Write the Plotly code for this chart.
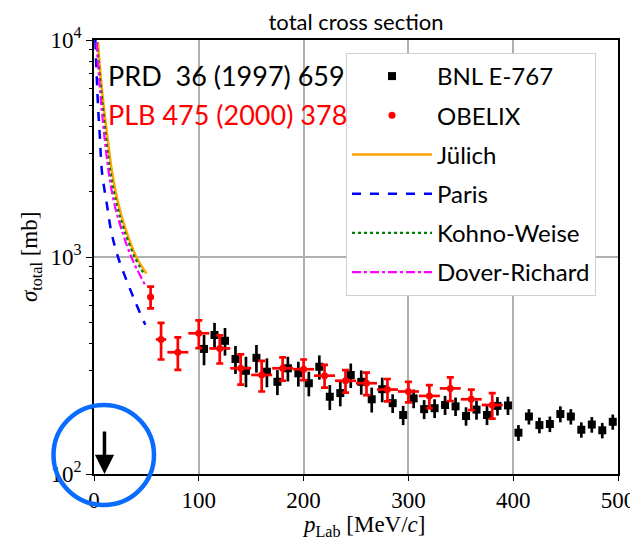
import plotly.graph_objects as go

# ---------------- data ----------------
bnl_p = [105, 115, 125, 135, 145, 155, 165, 175, 185, 195,
         205, 215, 225, 235, 245, 255, 265, 275, 285, 295,
         305, 315, 325, 335, 345, 355, 365, 375, 385, 395,
         405, 415, 425, 435, 445, 455, 465, 475, 485, 495]
bnl_sigma = [377, 437, 411, 339, 299, 343, 296, 266, 307, 291,
             262, 312, 227, 236, 286, 266, 221, 246, 212, 187,
             223, 199, 201, 208, 205, 185, 198, 187, 206, 207,
             155, 184, 168, 170, 189, 184, 160, 169, 159, 174]
bnl_err = [60, 60, 60, 50, 48, 50, 45, 35, 40, 38,
           34, 40, 30, 31, 37, 34, 29, 32, 21, 19,
           22, 20, 20, 21, 20, 18, 20, 19, 20, 20,
           13, 15, 14, 14, 16, 15, 13, 14, 13, 14]

obelix_p = [54, 64, 80, 100, 120, 140, 160, 180, 200, 220,
            240, 260, 280, 300, 320, 340, 360, 380]
obelix_sigma = [655, 417, 364, 445, 379, 307, 286, 307, 304, 284,
                269, 262, 245, 240, 229, 248, 221, 208]
obelix_err = [75, 80, 62, 65, 56, 49, 46, 38, 33, 34,
              32, 31, 29, 26, 28, 31, 24, 28]
obelix_dp = [3, 5, 10, 10, 10, 10, 10, 10, 10, 10,
             10, 10, 10, 10, 10, 10, 10, 10]

julich_p = [3.8, 6.0, 9.2, 13.0, 17.2, 23.5, 29.9, 40.4, 50.0]
julich_sigma = [9770, 7110, 4995, 3512, 2470, 1734, 1355, 1000, 840]

paris_p = [1.3, 3.8, 5.7, 7.6, 12.4, 16.5, 22.9, 37.9, 49.0]
paris_sigma = [10000, 4995, 3512, 2470, 1734, 1309, 1000, 646, 487]

kw_p = [2.8, 8.3, 15.6, 21.9, 28.3, 38.8, 48.5]
kw_sigma = [9770, 4995, 2470, 1734, 1355, 1000, 824]

dr_p = [2.3, 7.0, 14.0, 19.7, 26.0, 35.6, 49.0]
dr_sigma = [9770, 4995, 2470, 1734, 1355, 1000, 740]

x_ticks = [0, 100, 200, 300, 400, 500]
y_ticks = [100, 1000, 10000]
y_ticktext = ["10<sup>2</sup>", "10<sup>3</sup>", "10<sup>4</sup>"]
y_minor = [200, 300, 400, 500, 600, 700, 800, 900,
           2000, 3000, 4000, 5000, 6000, 7000, 8000, 9000]

SANS = "Lato"
SERIF = "Liberation Serif"

# page body has an 8px margin: the figure is sized so that the plot area
# lands at the same place as in the reference
W, H = 630, 540
ML, MR, MT, MB = 86, 20, 32, 74
PW, PH = W - ML - MR, H - MT - MB


def px(xp):
    return (xp - 8 - ML) / PW


def py(yp):
    return (H - MB - (yp - 8)) / PH


fig = go.Figure()

fig.add_trace(go.Scatter(
    x=bnl_p, y=bnl_sigma, mode="markers", name="BNL E-767",
    legendgroup="a",
    marker=dict(symbol="square", size=8, color="black"),
    error_y=dict(type="data", array=bnl_err, color="black", thickness=2.7, width=0),
))
fig.add_trace(go.Scatter(
    x=obelix_p, y=obelix_sigma, mode="markers", name="OBELIX",
    legendgroup="b",
    marker=dict(symbol="circle", size=7, color="#ff0000"),
    error_y=dict(type="data", array=obelix_err, color="#ff0000", thickness=2.7, width=3.5),
    error_x=dict(type="data", array=obelix_dp, color="#ff0000", thickness=2.7, width=0),
))
fig.add_trace(go.Scatter(
    x=julich_p, y=julich_sigma, mode="lines", name="Jülich", legendgroup="c",
    line=dict(color="#ffa500", width=2.5, shape="spline"),
))
fig.add_trace(go.Scatter(
    x=paris_p, y=paris_sigma, mode="lines", name="Paris", legendgroup="d",
    line=dict(color="#0000ff", width=2.5, dash="dash", shape="spline"),
))
fig.add_trace(go.Scatter(
    x=kw_p, y=kw_sigma, mode="lines", name="Kohno-Weise", legendgroup="e",
    line=dict(color="#008000", width=2.2, dash="dot", shape="spline"),
))
fig.add_trace(go.Scatter(
    x=dr_p, y=dr_sigma, mode="lines", name="Dover-Richard", legendgroup="f",
    line=dict(color="#ff00ff", width=2.2, dash="dashdot", shape="spline"),
))

fig.update_layout(
    width=W, height=H,
    margin=dict(l=ML, r=MR, t=MT, b=MB, autoexpand=False),
    paper_bgcolor="white", plot_bgcolor="white",
    title=dict(text="total cross section", x=(356 - 8) / W, xanchor="center",
               y=1 - (22 - 8) / H, yanchor="middle",
               font=dict(family=SANS, size=22, color="black")),
    legend=dict(x=px(346), xanchor="left", y=py(53), yanchor="top",
                bgcolor="white", bordercolor="#d0d0d0", borderwidth=1,
                font=dict(family=SANS, size=24, color="black"),
                tracegroupgap=5, itemwidth=80),
    showlegend=True,
)

fig.update_xaxes(
    range=[0, 500], tickvals=x_ticks, ticks="outside", ticklen=5,
    tickcolor="black", showline=True, linecolor="black", linewidth=1.5,
    mirror=True, showgrid=True, gridcolor="#b0b0b0", gridwidth=1.5,
    zeroline=False, automargin=False,
    tickfont=dict(family=SERIF, size=23, color="black"),
)
fig.update_yaxes(
    type="log", range=[2, 4], tickvals=y_ticks, ticktext=y_ticktext,
    ticks="outside", ticklen=6, tickcolor="black",
    showline=True, linecolor="black", linewidth=1.5, mirror=True,
    showgrid=True, gridcolor="#b0b0b0", gridwidth=1.5, zeroline=False,
    automargin=False,
    tickfont=dict(family=SERIF, size=23, color="black"),
    minor=dict(tickvals=y_minor, ticks="outside", ticklen=3,
               tickcolor="black", showgrid=False),
)

fig.add_annotation(
    text="<i>p</i><sub>Lab</sub> [MeV/<i>c</i>]", xref="paper", yref="paper",
    x=px(364), y=py(526), xanchor="center", yanchor="middle", showarrow=False,
    font=dict(family=SERIF, size=23, color="black"))
fig.add_annotation(
    text="<i>σ</i><sub>total</sub> [mb]", xref="paper", yref="paper",
    x=px(31), y=py(257), xanchor="center", yanchor="middle", showarrow=False,
    textangle=-90, font=dict(family=SERIF, size=23, color="black"))

fig.add_annotation(
    text="PRD&nbsp;&nbsp;36 (1997) 659", xref="paper", yref="paper",
    x=px(106), y=py(75), xanchor="left", yanchor="middle", showarrow=False,
    font=dict(family=SANS, size=27, color="black"))
fig.add_annotation(
    text="PLB 475 (2000) 378", xref="paper", yref="paper",
    x=px(106), y=py(115), xanchor="left", yanchor="middle", showarrow=False,
    font=dict(family=SANS, size=27, color="#ff0000"))

# arrow marking threshold
fig.add_annotation(
    x=10, y=2, xref="x", yref="y", text="", showarrow=True,
    arrowhead=2, arrowsize=1.1, arrowwidth=3.5, arrowcolor="black",
    ax=0, ay=-44, axref="pixel", ayref="pixel")

# blue highlight circle (paper coordinates)
fig.add_shape(type="circle", xref="paper", yref="paper",
              x0=px(53.5), x1=px(154), y0=py(505), y1=py(405),
              line=dict(color="#0a6cff", width=4.5), layer="above")

fig.write_html("out.html")
